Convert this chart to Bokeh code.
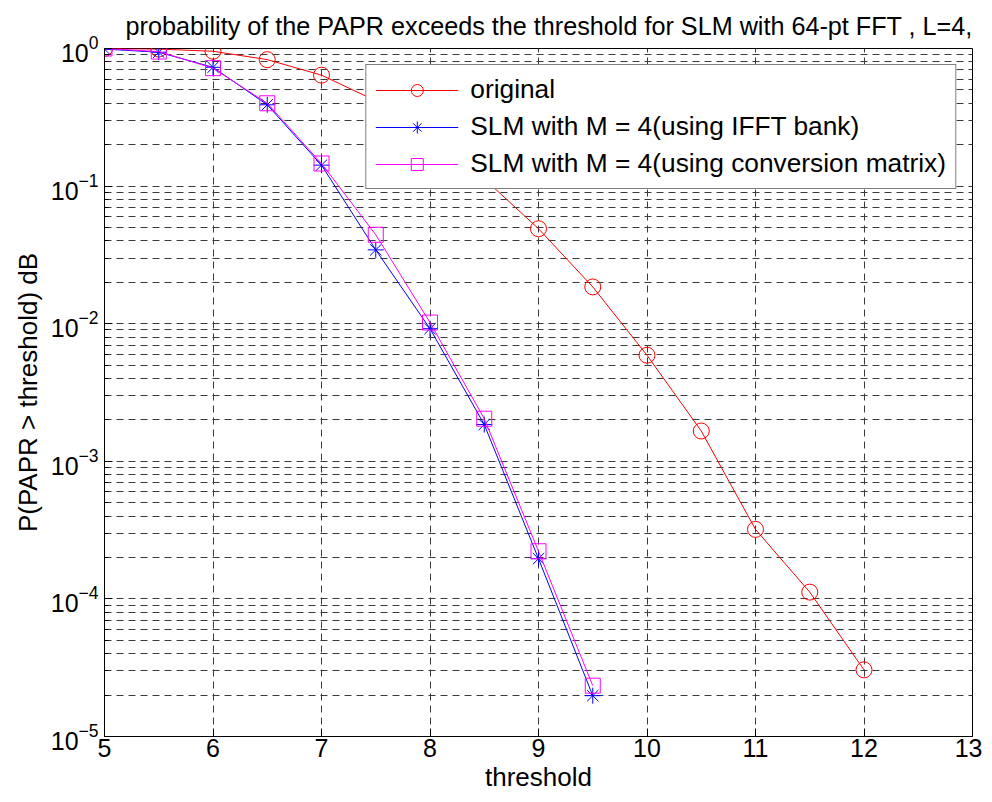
from bokeh.plotting import figure
from bokeh.models import FixedTicker, Legend, LegendItem
from bokeh.embed import file_html
from bokeh.resources import INLINE

# ---------------- data ----------------
thr_orig = [5, 5.5, 6, 6.5, 7, 7.5, 8, 8.5, 9, 9.5, 10, 10.5, 11, 11.5, 12]
p_orig = [1.0, 0.99, 0.955, 0.83, 0.64, 0.417, 0.232, 0.113, 0.049, 0.0185,
          0.0059, 0.00166, 3.2e-4, 1.12e-4, 3.05e-5]

thr_slm = [5, 5.5, 6, 6.5, 7, 7.5, 8, 8.5, 9, 9.5]
p_ifft = [0.99, 0.94, 0.73, 0.39, 0.142, 0.0344, 0.0092, 0.00185, 1.96e-4, 1.98e-5]
p_conv = [1.0, 0.95, 0.72, 0.40, 0.146, 0.0443, 0.0102, 0.00204, 2.22e-4, 2.34e-5]

x_ticks = [5, 6, 7, 8, 9, 10, 11, 12, 13]
y_ticks = [1e-5, 1e-4, 1e-3, 1e-2, 1e-1, 1.0]
y_minor = [k * d for d in [1e-5, 1e-4, 1e-3, 1e-2, 1e-1] for k in range(2, 10)]

title_text = "probability of the PAPR exceeds the threshold for SLM with 64-pt FFT , L=4,"
x_label = "threshold"
y_label = "P(PAPR > threshold) dB"
labels = ["original", "SLM with M = 4(using IFFT bank)",
          "SLM with M = 4(using conversion matrix)"]

FONT = "Liberation Sans"
GRID = "#3a3a3a"
DASH = "7 5"

p = figure(width=982, height=794, y_axis_type="log",
           x_range=(5, 13), y_range=(1e-5, 1),
           output_backend="svg", toolbar_location=None,
           min_border_left=104, min_border_right=10,
           min_border_top=48, min_border_bottom=58,
           background_fill_color="white", border_fill_color="white")

p.title.text = title_text
p.title.text_font = FONT
p.title.text_font_size = "25.2px"
p.title.text_font_style = "normal"
p.title.align = "left"
p.title.offset = 21
p.title.standoff = 14
p.title.vertical_align = "top"
p.title.text_color = "black"

p.outline_line_color = "black"
p.outline_line_width = 1

# axes
p.xaxis.ticker = FixedTicker(ticks=x_ticks)
p.yaxis.ticker = FixedTicker(ticks=y_ticks, minor_ticks=y_minor)
for ax in (p.xaxis[0], p.yaxis[0]):
    ax.axis_line_color = "black"
    ax.major_tick_line_color = "black"
    ax.minor_tick_line_color = "black"
    ax.major_tick_in = 8
    ax.major_tick_out = 0
    ax.minor_tick_in = 4
    ax.minor_tick_out = 0
    ax.major_label_text_font = FONT
    ax.major_label_text_font_size = "25px"
    ax.major_label_text_color = "black"
    ax.axis_label_text_font = FONT
    ax.axis_label_text_font_size = "26px"
    ax.axis_label_text_font_style = "normal"
    ax.axis_label_text_color = "black"
p.xaxis.axis_label = x_label
p.yaxis.axis_label = y_label
p.xaxis.major_label_standoff = 2
p.xaxis.axis_label_standoff = 2
p.yaxis.major_label_standoff = 6

# grids
p.xgrid.grid_line_color = GRID
p.xgrid.grid_line_dash = DASH
p.ygrid.grid_line_color = GRID
p.ygrid.grid_line_dash = DASH
p.ygrid.minor_grid_line_color = GRID
p.ygrid.minor_grid_line_dash = DASH

# series
l1 = p.line(thr_orig, p_orig, line_color="#ff0000", line_width=1)
m1 = p.scatter(thr_orig, p_orig, marker="circle", size=16,
               fill_color=None, line_color="#ff0000", line_width=1)
l2 = p.line(thr_slm, p_ifft, line_color="#0000ff", line_width=1)
m2 = p.scatter(thr_slm, p_ifft, marker="asterisk", size=16,
               line_color="#0000ff", line_width=1)
l3 = p.line(thr_slm, p_conv, line_color="#ff00ff", line_width=1)
m3 = p.scatter(thr_slm, p_conv, marker="square", size=15,
               fill_color=None, line_color="#ff00ff", line_width=1)

legend = Legend(items=[
    LegendItem(label=labels[0], renderers=[l1, m1]),
    LegendItem(label=labels[1], renderers=[l2, m2]),
    LegendItem(label=labels[2], renderers=[l3, m3]),
], location="top_right")
legend.label_text_font = FONT
legend.label_text_font_size = "26.3px"
legend.label_text_color = "black"
legend.glyph_width = 83
legend.glyph_height = 30
legend.label_height = 30
legend.spacing = 6
legend.padding = 9
legend.margin = 16
legend.label_standoff = 12
legend.border_line_color = "black"
legend.border_line_width = 1
legend.background_fill_color = "white"
legend.background_fill_alpha = 1
p.add_layout(legend, "center")

open("out.html", "w").write(file_html(p, INLINE))
